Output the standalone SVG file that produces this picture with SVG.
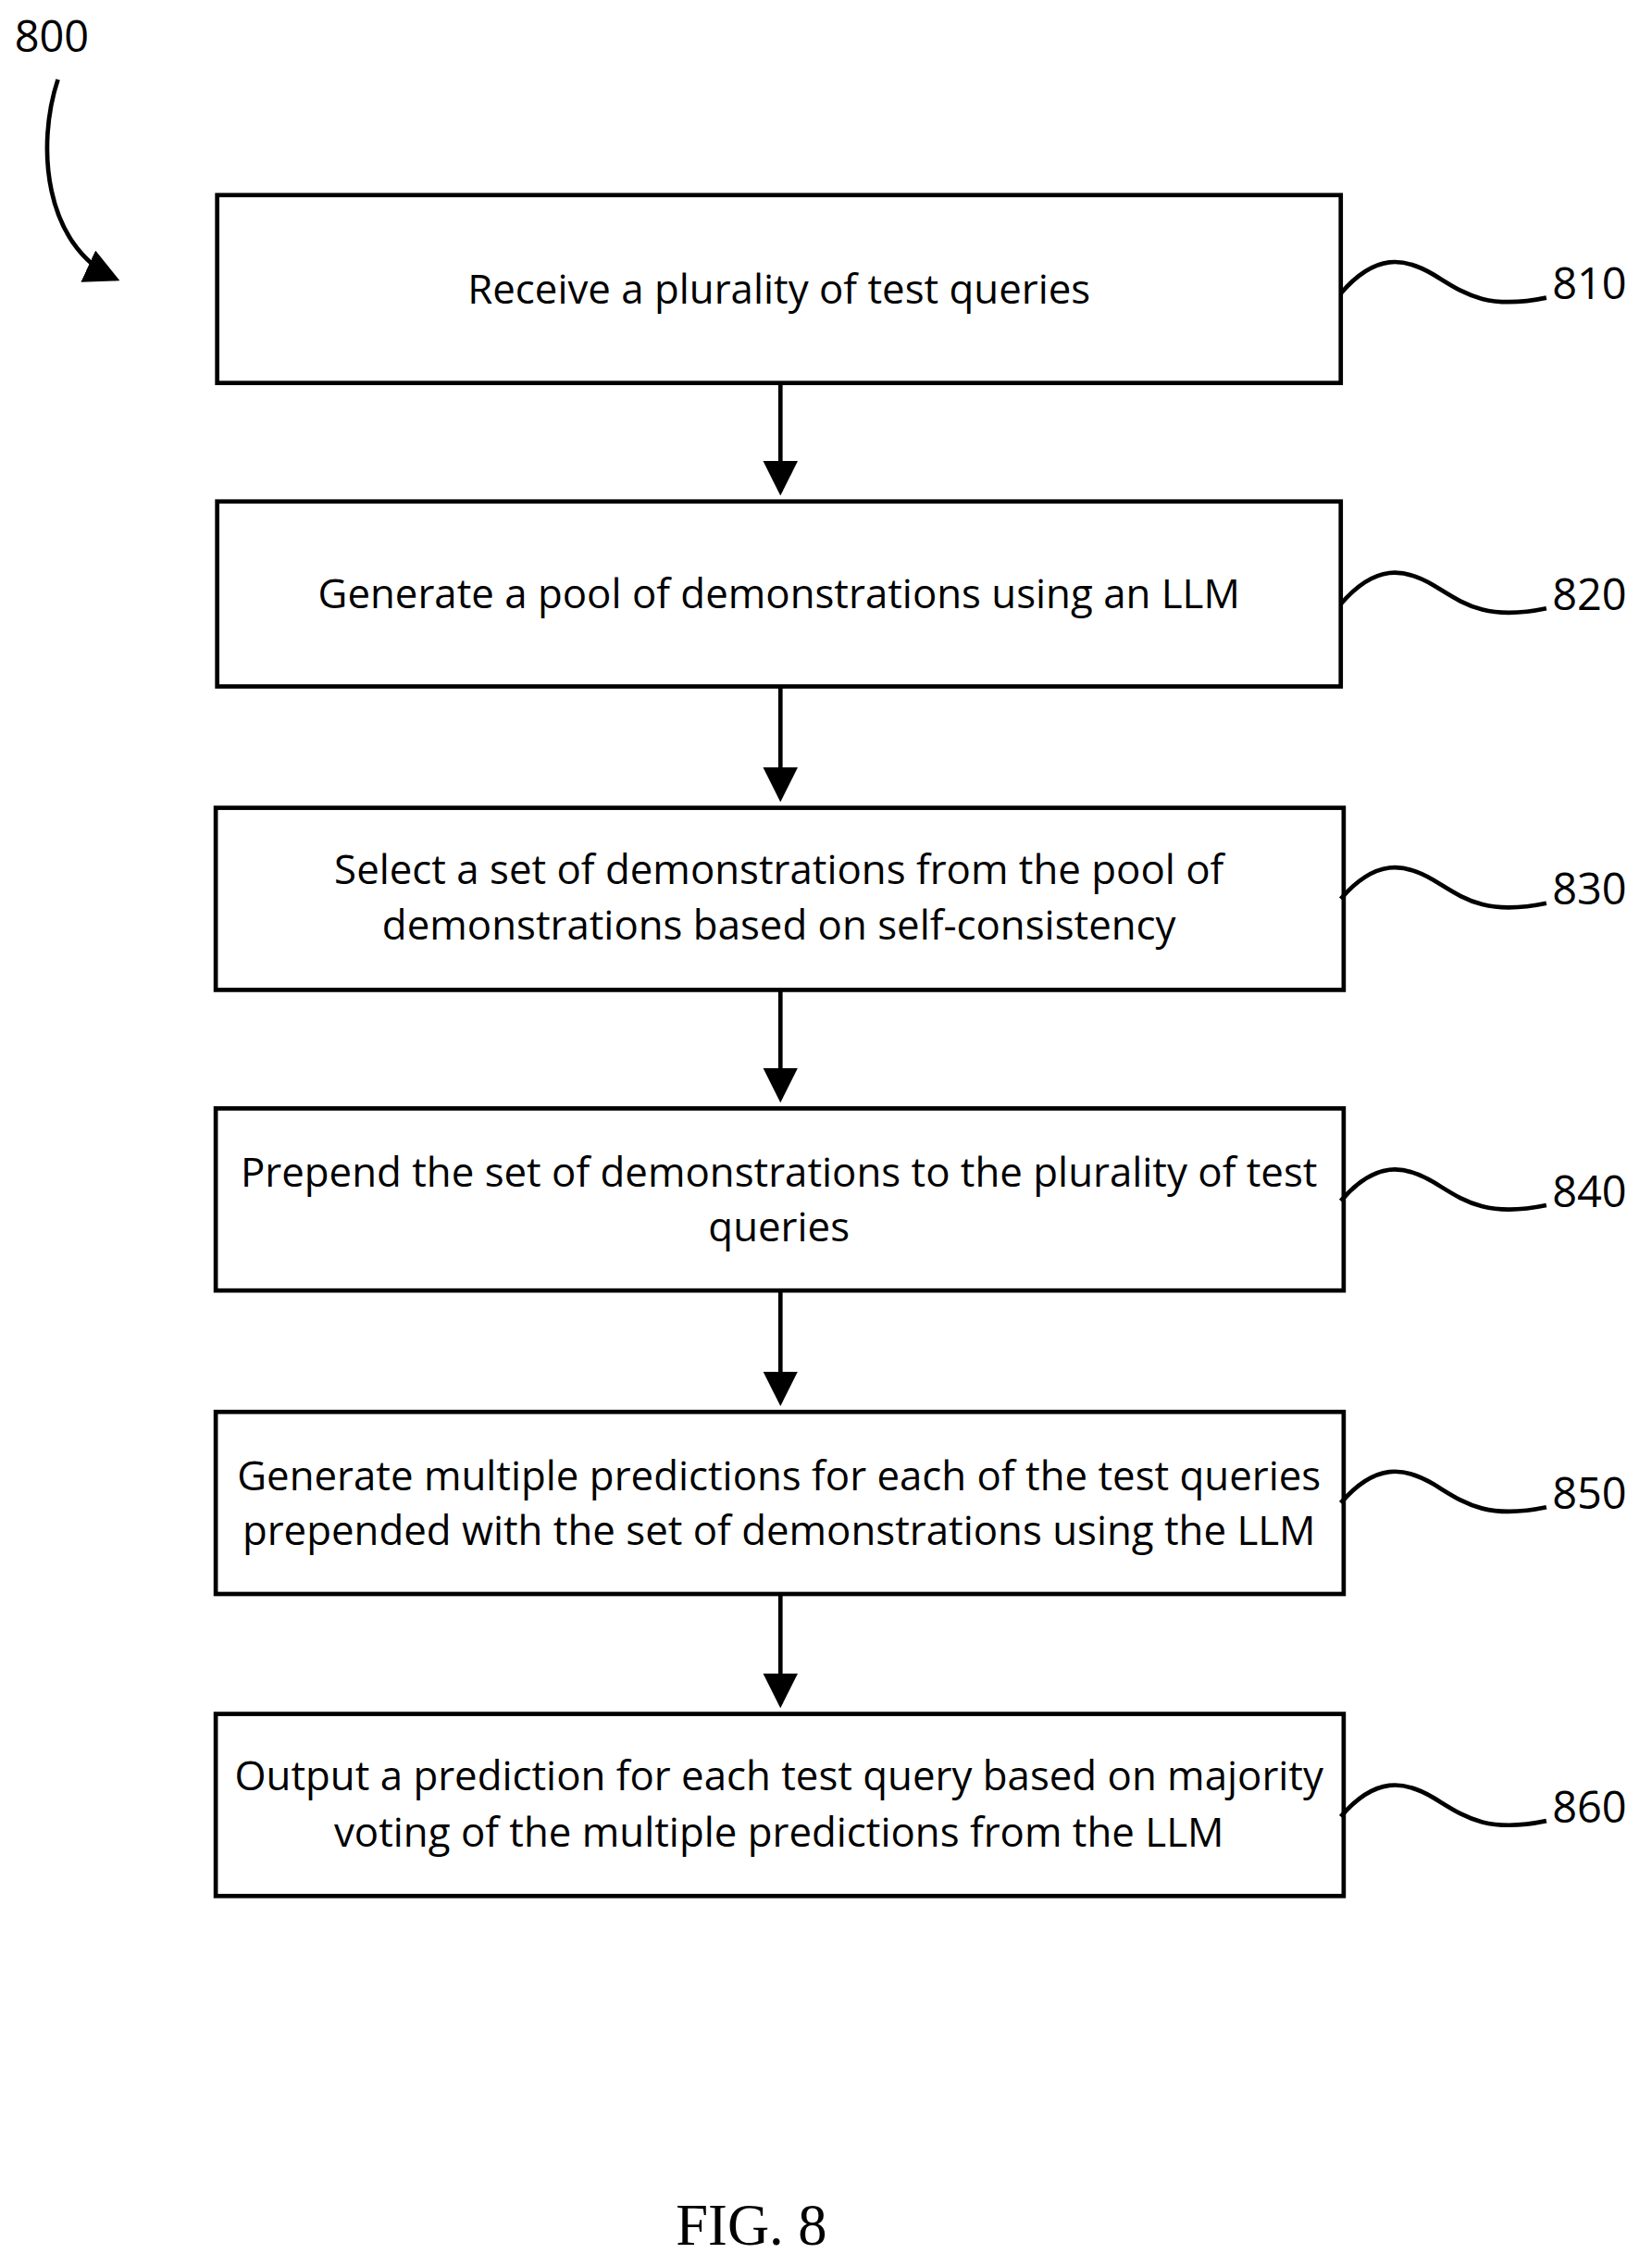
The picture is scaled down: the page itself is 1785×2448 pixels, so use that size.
<svg xmlns="http://www.w3.org/2000/svg" width="1785" height="2448" viewBox="0 0 1785 2448">
<style>
.box{fill:#fff;stroke:#000;stroke-width:3}
.t{font-family:"Open Sans","Liberation Sans",Arial,sans-serif;font-size:28px;text-anchor:middle;fill:#000}
.n{font-family:"Open Sans","Liberation Sans",Arial,sans-serif;font-size:30px;fill:#000}
.c{fill:none;stroke:#000;stroke-width:3}
</style>
<defs><marker id="ah" markerWidth="8" markerHeight="8" refX="7" refY="4" orient="auto" markerUnits="strokeWidth"><path d="M0,0 L8,4 L0,8 z" fill="#000"/></marker></defs>
<rect width="1785" height="2448" fill="#fff"/>
<g transform="scale(1.5645 1.5612)">
<g id="label800"><text class="n" x="10" y="36">800</text></g>
<g id="n810"><rect class="box" x="150" y="135" width="776" height="130"/><text class="t" x="538" y="210">Receive a plurality of test queries</text></g>
<g id="n820"><rect class="box" x="150" y="347" width="776" height="128"/><text class="t" x="538" y="421">Generate a pool of demonstrations using an LLM</text></g>
<g id="n830"><rect class="box" x="149" y="559" width="779" height="126"/><text class="t" x="538" y="612">Select a set of demonstrations from the pool of</text><text class="t" x="538" y="650">demonstrations based on self-consistency</text></g>
<g id="n840"><rect class="box" x="149" y="767" width="779" height="126"/><text class="t" x="538" y="821">Prepend the set of demonstrations to the plurality of test</text><text class="t" x="538" y="859">queries</text></g>
<g id="n850"><rect class="box" x="149" y="977" width="779" height="126"/><text class="t" x="538" y="1031">Generate multiple predictions for each of the test queries</text><text class="t" x="538" y="1069">prepended with the set of demonstrations using the LLM</text></g>
<g id="n860"><rect class="box" x="149" y="1186" width="779" height="126"/><text class="t" x="538" y="1239">Output a prediction for each test query based on majority</text><text class="t" x="538" y="1278">voting of the multiple predictions from the LLM</text></g>
<g id="refs">
<text class="n" x="1072" y="207">810</text><text class="n" x="1072" y="422">820</text><text class="n" x="1072" y="626">830</text><text class="n" x="1072" y="835">840</text><text class="n" x="1072" y="1044">850</text><text class="n" x="1072" y="1261">860</text>
</g>
<g id="connectors">
<path class="c" d="M539,265 V340" marker-end="url(#ah)"/>
<path class="c" d="M539,475 V552" marker-end="url(#ah)"/>
<path class="c" d="M539,685 V760" marker-end="url(#ah)"/>
<path class="c" d="M539,893 V970" marker-end="url(#ah)"/>
<path class="c" d="M539,1103 V1179" marker-end="url(#ah)"/>
<path class="c" d="M40,55 C25,100 30,170 80,193" marker-end="url(#ah)"/>
<path class="c" d="M926,203 C950,175 970,178 990,190 C1010,202 1025,215 1068,206"/>
<path class="c" d="M926,418 C950,390 970,393 990,405 C1010,417 1025,430 1068,421"/>
<path class="c" d="M926,622 C950,594 970,597 990,609 C1010,621 1025,634 1068,625"/>
<path class="c" d="M926,831 C950,803 970,806 990,818 C1010,830 1025,843 1068,834"/>
<path class="c" d="M926,1040 C950,1012 970,1015 990,1027 C1010,1039 1025,1052 1068,1043"/>
<path class="c" d="M926,1257 C950,1229 970,1232 990,1244 C1010,1256 1025,1269 1068,1260"/>
</g>
<text x="519" y="1553" font-family="'Liberation Serif','Times New Roman',serif" font-size="40" text-anchor="middle">FIG. 8</text>
</g>
</svg>
